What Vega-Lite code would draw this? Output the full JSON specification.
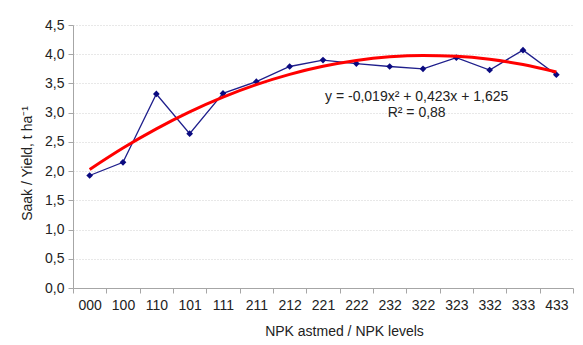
{
  "$schema": "https://vega.github.io/schema/vega-lite/v6.json",
  "width": 500,
  "height": 263,
  "autosize": "none",
  "padding": {"left": 73, "top": 25, "right": 10, "bottom": 57},
  "background": "white",
  "config": {
    "view": {"stroke": null},
    "font": "Liberation Sans",
    "axis": {"labelFont": "Liberation Sans", "titleFont": "Liberation Sans", "labelColor": "#222", "titleColor": "#222", "titleFontWeight": "normal"},
    "axisY": {
      "labelOverlap": false, "labelFontSize": 14, "titleFontSize": 14, "tickSize": 5, "tickColor": "#a6a6a6",
      "domainColor": "#a6a6a6", "labelPadding": 4,
      "gridColor": "#d0d0d0", "gridDash": [1, 2], "gridWidth": 1
    }
  },
  "datasets": {
    "main": [
      {"npk": "000", "yield": 1.925, "trend": 2.029},
      {"npk": "100", "yield": 2.15, "trend": 2.395},
      {"npk": "110", "yield": 3.32, "trend": 2.723},
      {"npk": "101", "yield": 2.64, "trend": 3.013},
      {"npk": "111", "yield": 3.33, "trend": 3.265},
      {"npk": "211", "yield": 3.53, "trend": 3.479},
      {"npk": "212", "yield": 3.79, "trend": 3.655},
      {"npk": "221", "yield": 3.9, "trend": 3.793},
      {"npk": "222", "yield": 3.84, "trend": 3.893},
      {"npk": "232", "yield": 3.79, "trend": 3.955},
      {"npk": "322", "yield": 3.75, "trend": 3.979},
      {"npk": "323", "yield": 3.94, "trend": 3.965},
      {"npk": "332", "yield": 3.73, "trend": 3.913},
      {"npk": "333", "yield": 4.07, "trend": 3.823},
      {"npk": "433", "yield": 3.65, "trend": 3.695}
    ],
    "labels": [
      {"npk": "322", "y": 3.275, "label": "y = -0,019x² + 0,423x + 1,625"},
      {"npk": "322", "y": 2.99, "label": "R² = 0,88"}
    ]
  },
  "data": {"name": "main"},
  "encoding": {
    "x": {
      "field": "npk", "type": "nominal", "sort": null, "bandPosition": 0.5,
      "scale": {"type": "band", "paddingInner": 0, "paddingOuter": 0},
      "axis": {
        "title": "NPK astmed / NPK levels", "labelAngle": 0, "labelFontSize": 14, "titleFontSize": 14,
        "tickBand": "extent", "tickSize": 5, "tickColor": "#a6a6a6", "domainColor": "#a6a6a6",
        "labelPadding": 5, "titlePadding": 12, "titleX": 271, "grid": false
      }
    }
  },
  "layer": [
    {
      "mark": {"type": "line", "color": "#1f1f8c", "strokeWidth": 1.3},
      "encoding": {
        "y": {
          "field": "yield", "type": "quantitative",
          "scale": {"domain": [0, 4.5], "nice": false, "zero": true},
          "axis": {"title": "Saak / Yield, t ha⁻¹", "values": [0, 0.5, 1, 1.5, 2, 2.5, 3, 3.5, 4, 4.5], "labelExpr": "replace(format(datum.value, '.1f'), '.', ',')", "titleX": -39, "titleY": 138}
        }
      }
    },
    {
      "mark": {"type": "point", "shape": "diamond", "filled": true, "color": "#0a0a80", "size": 45, "opacity": 1},
      "encoding": {"y": {"field": "yield", "type": "quantitative",
        "axis": {"title": "Saak / Yield, t ha⁻¹", "values": [0, 0.5, 1, 1.5, 2, 2.5, 3, 3.5, 4, 4.5], "labelExpr": "replace(format(datum.value, '.1f'), '.', ',')", "titleX": -39, "titleY": 138}}}
    },
    {
      "mark": {"type": "line", "color": "#ff0000", "strokeWidth": 3, "interpolate": "monotone"},
      "encoding": {"y": {"field": "trend", "type": "quantitative",
        "axis": {"title": "Saak / Yield, t ha⁻¹", "values": [0, 0.5, 1, 1.5, 2, 2.5, 3, 3.5, 4, 4.5], "labelExpr": "replace(format(datum.value, '.1f'), '.', ',')", "titleX": -39, "titleY": 138}}}
    },
    {
      "data": {"name": "labels"},
      "mark": {"type": "text", "fontSize": 14, "color": "#222", "align": "center", "baseline": "middle"},
      "encoding": {
        "x": {"field": "npk", "type": "nominal", "bandPosition": 0.31},
        "y": {"field": "y", "type": "quantitative",
          "axis": {"title": "Saak / Yield, t ha⁻¹", "values": [0, 0.5, 1, 1.5, 2, 2.5, 3, 3.5, 4, 4.5], "labelExpr": "replace(format(datum.value, '.1f'), '.', ',')", "titleX": -39, "titleY": 138}},
        "text": {"field": "label"}
      }
    }
  ]
}
